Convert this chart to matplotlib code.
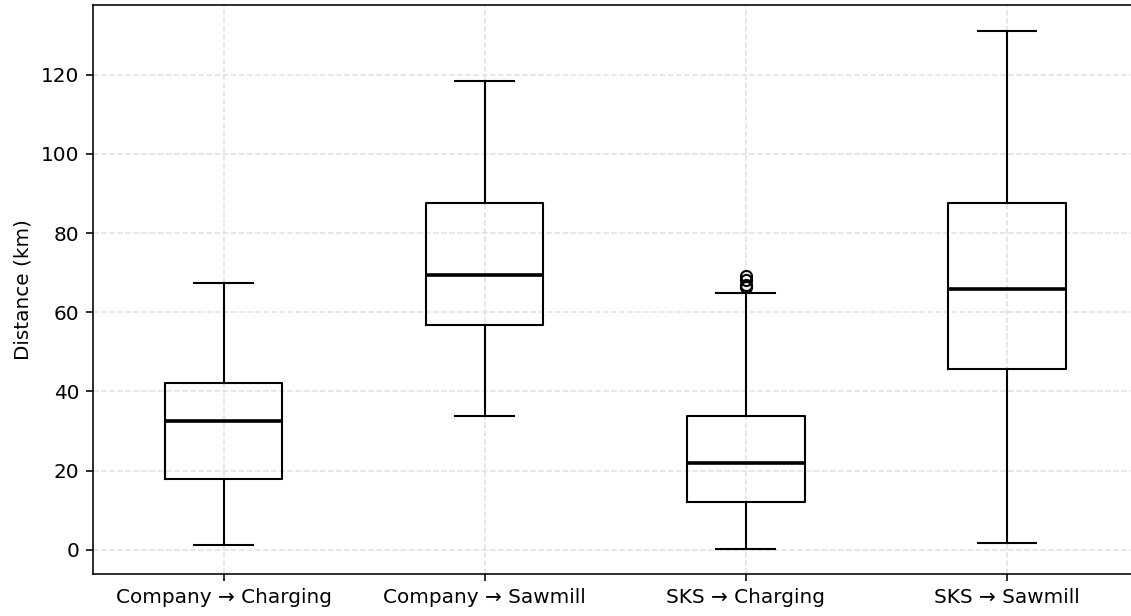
import matplotlib
matplotlib.use("Agg")
import matplotlib.pyplot as plt

# Route categories and five-number summaries (km)
categories = ["Company \u2192 Charging", "Company \u2192 Sawmill",
              "SKS \u2192 Charging", "SKS \u2192 Sawmill"]
whisker_low = [1.3, 33.9, 0.3, 1.8]
q1 = [17.9, 56.8, 12.2, 45.6]
median = [32.5, 69.4, 21.9, 65.9]
q3 = [42.1, 87.5, 33.7, 87.7]
whisker_high = [67.3, 118.3, 64.8, 130.9]
outliers = [[], [], [66.3, 66.9, 68.1, 69.1], []]

stats = []
for i, name in enumerate(categories):
    stats.append(dict(label=name, whislo=whisker_low[i], q1=q1[i], med=median[i],
                      q3=q3[i], whishi=whisker_high[i], fliers=outliers[i]))

W, H, DPI = 1131, 616, 100
fig = plt.figure(figsize=(W / DPI, H / DPI), dpi=DPI)
left, right, bottom, top = 93, 1137.5, 574, 5.3
ax = fig.add_axes([left / W, 1 - bottom / H, (right - left) / W, (bottom - top) / H])

ax.bxp(stats, positions=[1, 2, 3, 4], widths=0.45, patch_artist=False,
       boxprops=dict(color="black", linewidth=1.5),
       whiskerprops=dict(color="black", linewidth=1.5),
       capprops=dict(color="black", linewidth=1.5),
       medianprops=dict(color="black", linewidth=2.6),
       flierprops=dict(marker="o", markerfacecolor="none", markeredgecolor="black",
                       markersize=8, markeredgewidth=1.5))

ax.set_xlim(0.5, 4.5)
ax.set_ylim(-6.1, 137.5)
ax.set_yticks([0, 20, 40, 60, 80, 100, 120])
ax.set_xticks([1, 2, 3, 4])
ax.set_xticklabels(categories)
ax.tick_params(axis="both", labelsize=14.4, length=5, width=1.15, pad=5)
ax.set_ylabel("Distance (km)", fontsize=14.4, labelpad=6)
ax.grid(True, linestyle="--", color="#d9d9d9", linewidth=1.1, alpha=0.8)
ax.set_axisbelow(True)
for s in ax.spines.values():
    s.set_linewidth(1.15)

fig.savefig("out.png", dpi=DPI)
